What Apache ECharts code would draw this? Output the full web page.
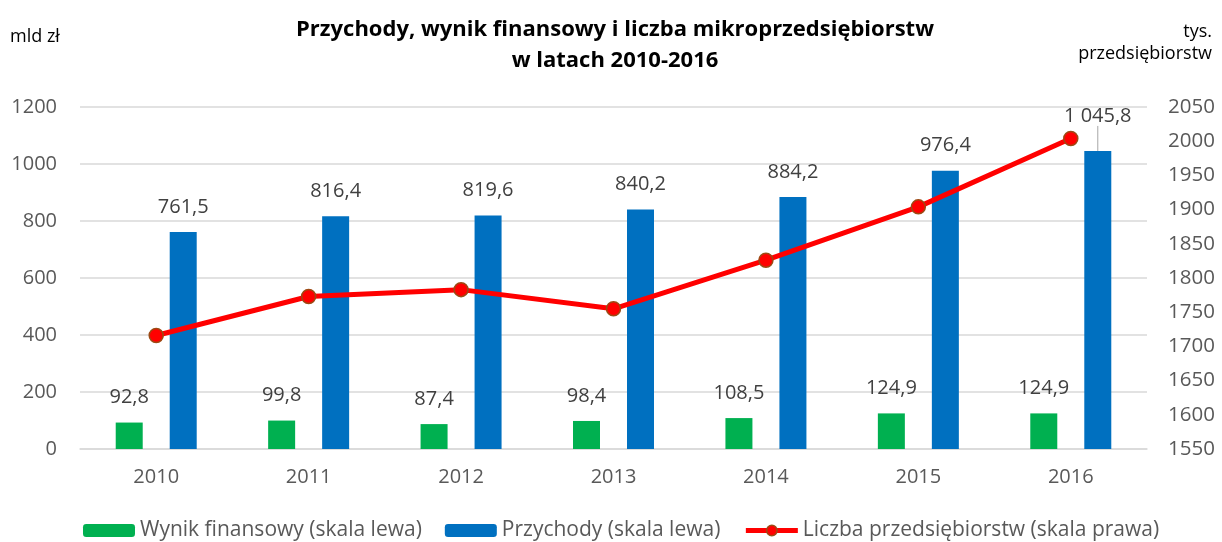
<!DOCTYPE html>
<html>
<head>
<meta charset="utf-8">
<script src="https://cdn.jsdelivr.net/npm/echarts@6/dist/echarts.min.js"></script>
<style>
html,body{margin:0;padding:0;background:#fff;}
#c{width:1222px;height:542px;}
</style>
</head>
<body>
<div id="c"></div>
<script>
const categories = ['2010','2011','2012','2013','2014','2015','2016'];
const wynik = [92.8, 99.8, 87.4, 98.4, 108.5, 124.9, 124.9];
const przychody = [761.5, 816.4, 819.6, 840.2, 884.2, 976.4, 1045.8];
const liczba = [1716, 1773, 1783, 1755, 1826, 1904, 2004];
const leftTicks = {min: 0, max: 1200, interval: 200};
const rightTicks = {min: 1550, max: 2050, interval: 50};

const FONT = '"Open Sans", Lato, sans-serif';
const TXT = '#595959';
const fmt = v => {
  const s = v.toFixed(1).replace('.', ',');
  const [i, d] = s.split(',');
  return i.replace(/\B(?=(\d{3})+(?!\d))/g, ' ') + ',' + d;
};

const przychodyData = przychody.map((v, i) => i === przychody.length - 1
  ? {value: v, labelLine: {show: true, lineStyle: {color: '#A6A6A6', width: 1}}}
  : v);

const chart = echarts.init(document.getElementById('c'));
chart.setOption({
  animation: false,
  textStyle: {fontFamily: FONT},
  title: {
    text: 'Przychody, wynik finansowy i liczba mikroprzedsiębiorstw\nw latach 2010-2016',
    left: 610, top: 9, textAlign: 'center',
    textStyle: {fontFamily: FONT, fontSize: 22, fontWeight: 'bold', color: '#000', lineHeight: 31}
  },
  graphic: [
    {type: 'text', left: 10, top: 28, style: {text: 'mld zł', font: '18px ' + FONT, fill: '#000'}},
    {type: 'text', right: 10, top: 23, style: {text: 'tys.', font: '18px ' + FONT, fill: '#000'}},
    {type: 'text', right: 10, top: 45, style: {text: 'przedsiębiorstw', font: '18px ' + FONT, fill: '#000'}}
  ],
  legend: {
    top: 515, left: 78,
    itemWidth: 52, itemHeight: 13, itemGap: 23,
    textStyle: {fontFamily: FONT, fontSize: 21, color: TXT},
    data: [
      'Wynik finansowy (skala lewa)',
      'Przychody (skala lewa)',
      {name: 'Liczba przedsiębiorstw (skala prawa)', lineStyle: {width: 5, color: '#FF0000'},
       itemStyle: {color: '#FF0000', borderColor: '#9C4A14', borderWidth: 1.5}}
    ]
  },
  grid: {left: 80, right: 75, top: 107, bottom: 93},
  xAxis: {
    type: 'category', data: categories,
    axisLine: {lineStyle: {color: '#D9D9D9', width: 1.5}},
    axisTick: {show: false},
    axisLabel: {color: TXT, fontSize: 20, margin: 18, fontFamily: FONT}
  },
  yAxis: [
    {type: 'value', min: leftTicks.min, max: leftTicks.max, interval: leftTicks.interval,
     axisLine: {show: false}, axisTick: {show: false},
     axisLabel: {color: TXT, fontSize: 20, margin: 23, fontFamily: FONT, formatter: v => String(v)},
     splitLine: {lineStyle: {color: '#D9D9D9', width: 1.5}}},
    {type: 'value', min: rightTicks.min, max: rightTicks.max, interval: rightTicks.interval,
     axisLine: {show: false}, axisTick: {show: false},
     axisLabel: {color: TXT, fontSize: 20.5, margin: 21, fontFamily: FONT, formatter: v => String(v)},
     splitLine: {show: false}}
  ],
  series: [
    {name: 'Wynik finansowy (skala lewa)', type: 'bar', yAxisIndex: 0, data: wynik,
     barWidth: 27, barGap: '100%',
     itemStyle: {color: '#00B050'},
     label: {show: true, position: 'top', distance: 15, color: '#404040', fontSize: 20, fontFamily: FONT,
       formatter: p => fmt(p.value)}},
    {name: 'Przychody (skala lewa)', type: 'bar', yAxisIndex: 0, data: przychodyData,
     barWidth: 27, barGap: '100%',
     itemStyle: {color: '#0070C0'},
     label: {show: true, position: 'top', distance: 15, color: '#404040', fontSize: 20, fontFamily: FONT,
       formatter: p => fmt(p.value)},
     labelLayout: p => p.dataIndex === 6 ? {dy: -10} : {},
     labelLine: {show: false}},
    {name: 'Liczba przedsiębiorstw (skala prawa)', type: 'line', yAxisIndex: 1, data: liczba,
     symbol: 'circle', symbolSize: 14,
     lineStyle: {color: '#FF0000', width: 5},
     itemStyle: {color: '#FF0000', borderColor: '#9C4A14', borderWidth: 1.5},
     z: 5}
  ]
});
</script>
</body>
</html>
